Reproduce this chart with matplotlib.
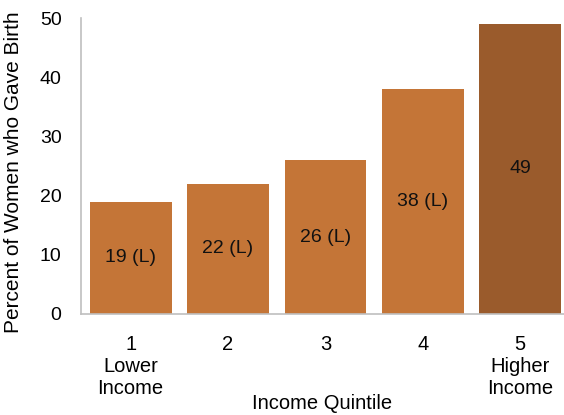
import matplotlib.pyplot as plt
import matplotlib as mpl

mpl.rcParams['font.family'] = ['Liberation Sans', 'DejaVu Sans']

quintiles = ["1\nLower\nIncome", "2", "3", "4", "5\nHigher\nIncome"]
percents = [19, 22, 26, 38, 49]
labels = ["19 (L)", "22 (L)", "26 (L)", "38 (L)", "49"]
colors = ["#C47537", "#C47537", "#C47537", "#C47537", "#9A5B2C"]

fig = plt.figure(figsize=(5.64, 4.15), dpi=100)
ax = fig.add_axes([0.1436, 0.2434, 0.8564, 0.7132])

x = range(len(quintiles))
ax.bar(x, percents, width=0.84, color=colors, zorder=2)

for i, (v, lab) in enumerate(zip(percents, labels)):
    ax.text(i, v / 2, lab, ha='center', va='center', fontsize=14, color='#111111')

ax.set_xlim(-0.51, 4.45)
ax.set_ylim(0, 50)
ax.set_yticks([0, 10, 20, 30, 40, 50])
ax.set_xticks(list(x))
ax.set_xticklabels(quintiles, fontsize=14.5, linespacing=1.2, va='top')
ax.tick_params(axis='both', length=0, labelsize=14)
ax.tick_params(axis='x', labelsize=14.5, pad=15)
ax.tick_params(axis='y', pad=14)

for side in ['top', 'right']:
    ax.spines[side].set_visible(False)
for side in ['left', 'bottom']:
    ax.spines[side].set_color('#BFBFBF')
    ax.spines[side].set_linewidth(1.2)

ax.set_xlabel("Income Quintile", fontsize=14.5, labelpad=-3)
ax.set_ylabel("Percent of Women who Gave Birth", fontsize=15)
ax.yaxis.set_label_coords(-0.12, 0.48)

fig.savefig("out.png", dpi=100)
plt.close(fig)
